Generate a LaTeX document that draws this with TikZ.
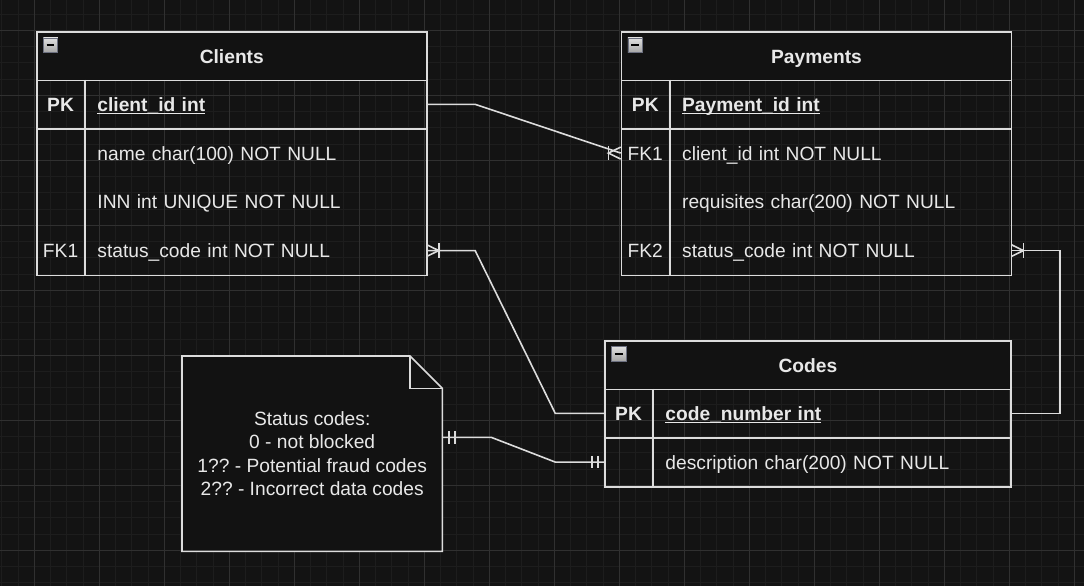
\documentclass[tikz,border=0pt]{standalone}
\usepackage{fontspec}
\setmainfont{Liberation Sans}
\usetikzlibrary{calc}
\frenchspacing
\definecolor{bg}{HTML}{131313}
\definecolor{fillc}{HTML}{121212}
\definecolor{gridminor}{HTML}{1D1D1D}
\definecolor{gridmajor}{HTML}{303030}
\definecolor{stroke}{HTML}{DCDCDC}
\definecolor{txt}{HTML}{E8E8E8}
\definecolor{iconborder}{HTML}{6C7080}
\newcommand\fs{\fontsize{19.2}{23.4}\selectfont}
\newcommand\pkul[1]{\setbox0\hbox{#1}\rlap{\copy0}\rule[-3pt]{\wd0}{1.4pt}}
\begin{document}
\begin{tikzpicture}[x=1pt,y=-1pt,
  font=\fs,
  gminor/.style={draw=gridminor, line width=0.8pt},
  gmajor/.style={draw=gridmajor, line width=0.8pt},
  line/.style={draw=stroke, line width=1.6pt},
  conn/.style={draw=stroke, line width=1.6pt},
  frame/.style={draw=stroke, line width=1.6pt, inner sep=0pt, anchor=north west},
  hdr/.style={frame, fill=fillc, minimum height=48.75pt, text=txt, font=\fs\bfseries, text height=14pt, text depth=0pt},
  keyc/.style={inner sep=0pt, anchor=north west, minimum width=48.75pt, minimum height=48.75pt, text=txt, text height=14pt, text depth=0pt},
  fieldc/.style={inner xsep=12.5pt, inner ysep=0pt, anchor=north west, minimum height=48.75pt, align=left, text=txt, text height=14pt, text depth=0pt},
  icon/.style={minimum size=14.5pt, inner sep=0pt, draw=iconborder, line width=0.8pt, top color=gray!25, bottom color=gray!70,
    path picture={\draw[black, line width=1.8pt] ($(path picture bounding box.west)+(3.3,0)$) -- ($(path picture bounding box.east)+(-3.3,0)$);}},
  crowR/.pic={\draw[conn] (0,-6) -- (12.3,0) -- (0,6); \draw[conn] (12.3,-7.3) -- (12.3,7.3);},
  crowL/.pic={\draw[conn] (0,-6) -- (-12.3,0) -- (0,6); \draw[conn] (-12.3,-7.3) -- (-12.3,7.3);},
  barsR/.pic={\draw[conn] (6.3,-6.3) -- (6.3,6.3); \draw[conn] (12.3,-6.3) -- (12.3,6.3);},
  barsL/.pic={\draw[conn] (-6.3,-6.3) -- (-6.3,6.3); \draw[conn] (-12.3,-6.3) -- (-12.3,6.3);},
  notebox/.style={draw=stroke, fill=fillc, line width=1.6pt}
]
\useasboundingbox (0,0) rectangle (1084,586);
\fill[bg] (0,0) rectangle (1084,586);
% grid
\foreach \i in {0,...,67} { \draw[gminor] ({1.8+16.25*\i},0) -- ++(0,586); }
\foreach \i in {0,...,36} { \draw[gminor] (0,{-2.2+16.25*\i}) -- ++(1084,0); }
\foreach \i in {0,...,16} { \draw[gmajor] ({34.3+65*\i},0) -- ++(0,586); }
\foreach \i in {0,...,8} { \draw[gmajor] (0,{30.3+65*\i}) -- ++(1084,0); }

% ===== Clients =====
\node[frame, minimum width=390pt, minimum height=243.75pt] (clients) at (36,31) {};
\node[hdr, minimum width=390pt] (ch) at (36,31) {Clients};
\node[icon] (ci) at (50.5,45.2) {};
\node[keyc, font=\fs\bfseries] (ck1) at (36,79.75) {PK};
\node[fieldc, text width=316.25pt, font=\fs\bfseries] (cf1) at (84.75,79.75) {\pkul{client\_id int}};
\node[keyc] (ck2) at (36,128.5) {};
\node[fieldc, text width=316.25pt] (cf2) at (84.75,128.5) {name char(100) NOT NULL};
\node[keyc] (ck3) at (36,177.25) {};
\node[fieldc, text width=316.25pt] (cf3) at (84.75,177.25) {INN int UNIQUE NOT NULL};
\node[keyc] (ck4) at (36,226) {FK1};
\node[fieldc, text width=316.25pt] (cf4) at (84.75,226) {status\_code int NOT NULL};
\draw[line] (ck1.north east) -- (ck4.south east);
\draw[line] (ck1.south west) -- (cf1.south east);

% ===== Payments =====
\node[frame, minimum width=390pt, minimum height=243.75pt] (payments) at (620.7,31) {};
\node[hdr, minimum width=390pt] (ph) at (620.7,31) {Payments};
\node[icon] (pi) at (635.2,45.2) {};
\node[keyc, font=\fs\bfseries] (pk1) at (620.7,79.75) {PK};
\node[fieldc, text width=316.25pt, font=\fs\bfseries] (pf1) at (669.45,79.75) {\pkul{Payment\_id int}};
\node[keyc] (pk2) at (620.7,128.5) {FK1};
\node[fieldc, text width=316.25pt] (pf2) at (669.45,128.5) {client\_id int NOT NULL};
\node[keyc] (pk3) at (620.7,177.25) {};
\node[fieldc, text width=316.25pt] (pf3) at (669.45,177.25) {requisites char(200) NOT NULL};
\node[keyc] (pk4) at (620.7,226) {FK2};
\node[fieldc, text width=316.25pt] (pf4) at (669.45,226) {status\_code int NOT NULL};
\draw[line] (pk1.north east) -- (pk4.south east);
\draw[line] (pk1.south west) -- (pf1.south east);

% ===== Codes =====
\node[frame, minimum width=406.25pt, minimum height=146.25pt] (codes) at (604,340) {};
\node[hdr, minimum width=406.25pt] (dh) at (604,340) {Codes};
\node[icon] (di) at (618.8,353.9) {};
\node[keyc, font=\fs\bfseries] (dk1) at (604,388.75) {PK};
\node[fieldc, text width=332.5pt, font=\fs\bfseries] (df1) at (652.75,388.75) {\pkul{code\_number int}};
\node[keyc] (dk2) at (604,437.5) {};
\node[fieldc, text width=332.5pt] (df2) at (652.75,437.5) {description char(200) NOT NULL};
\draw[line] (dk1.north east) -- (dk2.south east);
\draw[line] (dk1.south west) -- (df1.south east);

% ===== Note =====
\node[inner sep=0pt, anchor=north west, minimum width=260pt, minimum height=195pt] (note) at (182,356) {};
\draw[notebox] (note.north west) -- ($(note.north east)+(-32.5,0)$) -- ($(note.north east)+(0,32.5)$) -- (note.south east) -- (note.south west) -- cycle;
\draw[line] ($(note.north east)+(-32.5,0)$) -- ($(note.north east)+(-32.5,32.5)$) -- ($(note.north east)+(0,32.5)$);
\node[align=center, text=txt, inner sep=0pt] (notetext) at (note.center) {Status codes:\\0 - not blocked\\1?? - Potential fraud codes\\2?? - Incorrect data codes};
\coordinate (nx) at ($(note.north east)+(0,81.3)$);

% ===== Connectors =====
\draw[conn] (cf1.east) -- ++(48.75,0) -- ($(pf2.west)+(-48.75,0)$) -- (pk2.west);
\pic at (pk2.west) {crowL};
\draw[conn] (cf4.east) -- ++(48.75,0) -- ($(dk1.west)+(-48.75,0)$) -- (dk1.west);
\pic at (cf4.east) {crowR};
\draw[conn] (pf4.east) -- ++(48.75,0) |- (df1.east);
\pic at (pf4.east) {crowR};
\draw[conn] (nx) -- ++(48.75,0) -- ($(dk2.west)+(-48.75,0)$) -- (dk2.west);
\pic at (nx) {barsR};
\pic at (dk2.west) {barsL};
\end{tikzpicture}
\end{document}
